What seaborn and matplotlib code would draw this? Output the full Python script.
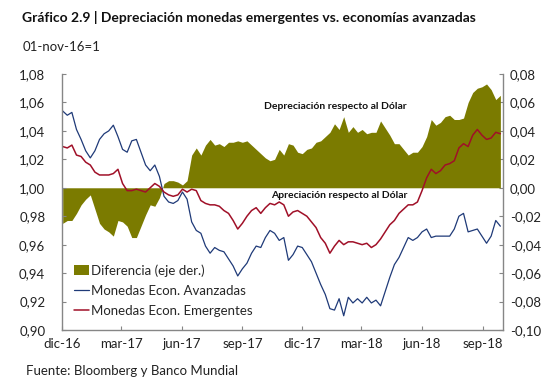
import numpy as np
import pandas as pd
import matplotlib
matplotlib.use("Agg")
import matplotlib.pyplot as plt
from matplotlib.ticker import FuncFormatter
from matplotlib.patches import Patch
from matplotlib.lines import Line2D
import seaborn as sns

# ---------------- data (weekly) ----------------
start_date = "2016-12-02"
avanzadas = [
    1.054, 1.051, 1.053, 1.041, 1.034, 1.026, 1.021, 1.026, 1.034, 1.038,
    1.040, 1.044, 1.036, 1.027, 1.025, 1.033, 1.034, 1.025, 1.016, 1.012,
    1.016, 1.008, 0.994, 0.990, 0.989, 0.991, 0.997, 0.992, 0.976, 0.970,
    0.968, 0.959, 0.954, 0.958, 0.956, 0.955, 0.950, 0.945, 0.938, 0.943,
    0.947, 0.954, 0.959, 0.958, 0.965, 0.970, 0.968, 0.963, 0.965, 0.949,
    0.953, 0.959, 0.958, 0.953, 0.948, 0.940, 0.932, 0.925, 0.915, 0.914,
    0.922, 0.910, 0.923, 0.919, 0.922, 0.919, 0.923, 0.919, 0.921, 0.917,
    0.927, 0.937, 0.946, 0.951, 0.958, 0.965, 0.963, 0.965, 0.969, 0.971,
    0.965, 0.966, 0.966, 0.966, 0.966, 0.971, 0.980, 0.982, 0.969, 0.970,
    0.971, 0.966, 0.961, 0.966, 0.977, 0.973,
]
emergentes = [
    1.029, 1.028, 1.030, 1.023, 1.022, 1.018, 1.016, 1.011, 1.009, 1.009,
    1.009, 1.010, 1.013, 1.003, 0.998, 0.998, 0.999, 0.998, 0.997, 1.000,
    1.003, 1.001, 0.997, 0.995, 0.994, 0.995, 0.999, 0.997, 0.999, 0.998,
    0.991, 0.989, 0.988, 0.988, 0.987, 0.984, 0.982, 0.977, 0.971, 0.975,
    0.980, 0.984, 0.986, 0.982, 0.986, 0.989, 0.988, 0.990, 0.988, 0.980,
    0.983, 0.984, 0.982, 0.980, 0.976, 0.972, 0.965, 0.961, 0.954, 0.959,
    0.963, 0.960, 0.962, 0.962, 0.961, 0.960, 0.961, 0.958, 0.960, 0.964,
    0.969, 0.974, 0.977, 0.982, 0.985, 0.988, 0.988, 0.990, 0.998, 1.007,
    1.013, 1.010, 1.012, 1.016, 1.017, 1.019, 1.028, 1.031, 1.029, 1.037,
    1.041, 1.037, 1.034, 1.035, 1.039, 1.038,
]
tick_dates = ["2016-12-01", "2017-03-01", "2017-06-01", "2017-09-01",
              "2017-12-01", "2018-03-01", "2018-06-01", "2018-09-01"]
tick_labels = ["dic-16", "mar-17", "jun-17", "sep-17",
               "dic-17", "mar-18", "jun-18", "sep-18"]
xlim_dates = ["2016-12-01", "2018-10-02"]

fechas = pd.date_range(start_date, periods=len(avanzadas), freq="7D")
df = pd.DataFrame({"fecha": fechas, "avanzadas": avanzadas,
                   "emergentes": emergentes})
df["diferencia"] = df["emergentes"] - df["avanzadas"]

# ---------------- style ----------------
sns.set_theme(style="white")
plt.rcParams["font.family"] = ["Lato", "DejaVu Sans"]

OLIVE = "#7b7b00"
BLUE = "#1f3a78"
RED = "#a01028"
SPINE = "#868686"

fig = plt.figure(figsize=(5.45, 3.8), dpi=100)
ax = fig.add_axes([62 / 545, 50 / 380, 441 / 545, 256 / 380])
ax2 = ax.twinx()

# difference area on the right axis
ax2.fill_between(df["fecha"], 0, df["diferencia"], color=OLIVE, linewidth=0)
ax2.set_ylim(-0.10, 0.08)
ax2.set_yticks(np.arange(-0.10, 0.0801, 0.02))

# lines on left axis
sns.lineplot(data=df, x="fecha", y="avanzadas", ax=ax, color=BLUE,
             linewidth=0.9, legend=False)
sns.lineplot(data=df, x="fecha", y="emergentes", ax=ax, color=RED,
             linewidth=1.1, legend=False)
ax.set_ylim(0.90, 1.08)
ax.set_yticks(np.arange(0.90, 1.0801, 0.02))

ax.set_zorder(ax2.get_zorder() + 1)
ax.patch.set_visible(False)

xl = pd.to_datetime(xlim_dates)
ax.set_xlim(xl[0], xl[1])
ax.set_xticks(pd.to_datetime(tick_dates))
ax.set_xticklabels(tick_labels)
ax.set_xlabel("")
ax.set_ylabel("")
ax2.set_ylabel("")

fmt = FuncFormatter(lambda v, p: f"{v:.2f}".replace(".", ",").replace("-0,00", "0,00"))
ax.yaxis.set_major_formatter(fmt)
ax2.yaxis.set_major_formatter(fmt)

for a in (ax, ax2):
    for s in ("left", "right", "bottom"):
        a.spines[s].set_color(SPINE)
        a.spines[s].set_linewidth(1.0)
    a.spines["top"].set_visible(False)
ax2.spines["left"].set_visible(False)
ax2.spines["bottom"].set_visible(False)
ax.spines["right"].set_visible(False)

ax.tick_params(axis="y", direction="in", length=3, width=0.8, color=SPINE,
               labelsize=9.5, labelcolor="#222222", pad=12, left=True)
ax.tick_params(axis="x", direction="in", length=3, width=0.8, color=SPINE,
               labelsize=9.5, labelcolor="#222222", pad=6, bottom=True)
ax2.tick_params(axis="y", direction="in", length=3, width=0.8, color=SPINE,
                labelsize=9.5, labelcolor="#222222", pad=5, right=True)

# annotations
ax.text(0.619, 0.872, "Depreciación respecto al Dólar", transform=ax.transAxes,
        ha="center", va="center", fontsize=7.5, fontweight="bold", color="#111111")
ax.text(0.628, 0.527, "Apreciación respecto al Dólar", transform=ax.transAxes,
        ha="center", va="center", fontsize=7.5, fontweight="bold", color="#111111")

# legend
handles = [Patch(facecolor=OLIVE, edgecolor="none"),
           Line2D([], [], color=BLUE, linewidth=0.9),
           Line2D([], [], color=RED, linewidth=1.1)]
labels = ["Diferencia (eje der.)", "Monedas Econ. Avanzadas",
          "Monedas Econ. Emergentes"]
ax.legend(handles, labels, loc="lower left", bbox_to_anchor=(0.01, 0.02),
          frameon=False, fontsize=9.5, handlelength=1.1, handletextpad=0.15,
          labelspacing=0.62, borderaxespad=0.2)

# titles
fig.text(22 / 545, 1 - 17 / 380, "Gráfico 2.9 | Depreciación monedas emergentes vs. economías avanzadas",
         ha="left", va="center", fontsize=10, fontweight="bold", color="#111111")
fig.text(23 / 545, 1 - 47 / 380, "01-nov-16=1", ha="left", va="center",
         fontsize=9.5, color="#222222")
fig.text(26 / 545, 1 - 371 / 380, "Fuente: Bloomberg y Banco Mundial", ha="left",
         va="center", fontsize=9.5, color="#222222")

fig.savefig("out.png", dpi=100)
